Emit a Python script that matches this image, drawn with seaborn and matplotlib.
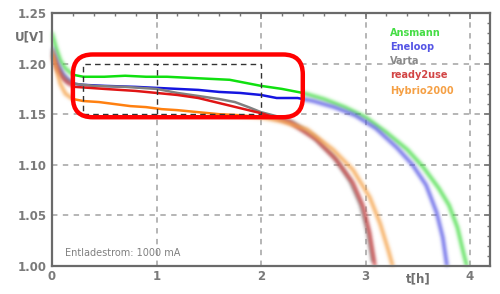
import numpy as np
import pandas as pd
import matplotlib
matplotlib.use("Agg")
import matplotlib.pyplot as plt
import seaborn as sns
from matplotlib.patches import FancyBboxPatch, Rectangle
from matplotlib.ticker import MultipleLocator, FormatStrFormatter

# ---------------- data ----------------
labels = ["Ansmann", "Eneloop", "Varta", "ready2use", "Hybrio2000"]
colors = ["#10e010", "#1515e0", "#808080", "#e01515", "#ff8010"]
soft_colors = ["#45dd45", "#5555e5", "#8a8a8a", "#d24545", "#f5a045"]

green_t = [0, 0.04, 0.08, 0.13, 0.2, 0.3, 0.5, 0.7, 0.9, 1.1, 1.3, 1.5, 1.7, 1.85,
           2.0, 2.2, 2.4, 2.6, 2.8, 3.0, 3.2, 3.4, 3.55, 3.7, 3.8, 3.88, 3.94, 3.97]
green_v = [1.230, 1.215, 1.203, 1.195, 1.189, 1.187, 1.187, 1.188, 1.187, 1.187,
           1.186, 1.185, 1.184, 1.181, 1.178, 1.175, 1.171, 1.165, 1.157, 1.147,
           1.132, 1.115, 1.098, 1.077, 1.060, 1.038, 1.012, 1.000]

blue_t = [0, 0.05, 0.1, 0.15, 0.22, 0.3, 0.5, 0.8, 1.0, 1.2, 1.4, 1.6, 1.8, 2.0,
          2.15, 2.35, 2.5, 2.7, 2.9, 3.1, 3.3, 3.45, 3.58, 3.68, 3.74, 3.78]
blue_v = [1.215, 1.200, 1.190, 1.184, 1.180, 1.179, 1.178, 1.177, 1.176, 1.175,
          1.174, 1.172, 1.171, 1.169, 1.166, 1.166, 1.163, 1.157, 1.149, 1.136,
          1.117, 1.100, 1.080, 1.053, 1.028, 1.000]

gray_t = [0, 0.05, 0.1, 0.15, 0.22, 0.4, 0.7, 1.0, 1.2, 1.4, 1.6, 1.75, 1.88, 2.0,
          2.15, 2.3, 2.5, 2.7, 2.85, 2.95, 3.02, 3.07]
gray_v = [1.212, 1.198, 1.188, 1.183, 1.180, 1.178, 1.177, 1.175, 1.171, 1.168,
          1.165, 1.162, 1.157, 1.152, 1.148, 1.142, 1.128, 1.108, 1.085, 1.062,
          1.035, 1.005]

red_t = [0, 0.05, 0.1, 0.15, 0.22, 0.5, 0.8, 1.0, 1.2, 1.4, 1.6, 1.8, 2.0, 2.28,
         2.53, 2.72, 2.88, 2.98, 3.04, 3.09]
red_v = [1.208, 1.195, 1.186, 1.181, 1.177, 1.175, 1.173, 1.171, 1.169, 1.166,
         1.161, 1.156, 1.151, 1.142, 1.125, 1.105, 1.082, 1.058, 1.032, 1.000]

orange_t = [0, 0.04, 0.08, 0.13, 0.2, 0.3, 0.45, 0.6, 0.75, 0.9, 1.05, 1.2, 1.4,
            1.6, 1.8, 2.0, 2.2, 2.44, 2.69, 2.88, 3.04, 3.14, 3.22, 3.26]
orange_v = [1.213, 1.195, 1.180, 1.170, 1.165, 1.163, 1.162, 1.160, 1.158, 1.157,
            1.155, 1.154, 1.152, 1.150, 1.149, 1.147, 1.143, 1.135, 1.115, 1.095,
            1.068, 1.042, 1.015, 1.000]

series_t = [green_t, blue_t, gray_t, red_t, orange_t]
series_v = [green_v, blue_v, gray_v, red_v, orange_v]

x_ticks = [0, 1, 2, 3, 4]
y_ticks = [1.00, 1.05, 1.10, 1.15, 1.20, 1.25]
note_text = "Entladestrom: 1000 mA"

# ---------------- helpers ----------------
def make_blur(rgb, sigma=1.6, alpha=0.85):
    r = int(3 * sigma) + 1
    k = np.exp(-0.5 * (np.arange(-r, r + 1) / sigma) ** 2)
    k /= k.sum()

    def f(im, dpi):
        a = np.pad(im[:, :, 3], ((r, r), (r, r)))
        tmp = np.zeros_like(a)
        for i, w in enumerate(k):
            tmp += w * np.roll(a, i - r, axis=1)
        out_a = np.zeros_like(a)
        for i, w in enumerate(k):
            out_a += w * np.roll(tmp, i - r, axis=0)
        out = np.zeros(a.shape + (4,), dtype=im.dtype)
        out[:, :, 0] = rgb[0]
        out[:, :, 1] = rgb[1]
        out[:, :, 2] = rgb[2]
        out[:, :, 3] = np.clip(out_a * alpha, 0, 1)
        return out, -r, -r
    return f

# ---------------- figure ----------------
sns.set_theme(style="white")
plt.rcParams["font.family"] = ["DejaVu Sans"]

fig = plt.figure(figsize=(5, 2.94), dpi=100)
ax = fig.add_axes([52 / 500, 1 - 266 / 294, (490 - 52) / 500, (266 - 13) / 294])
ax.set_xlim(0, (490 - 52) / 104.5)
ax.set_ylim(1.0, 1.25)

# grid
for xv in x_ticks:
    ax.axvline(xv, color="#b0b0b0", lw=1.3, ls=(0, (3, 3)), zorder=0.5)
for yv in y_ticks:
    ax.axhline(yv, color="#b0b0b0", lw=1.3, ls=(0, (3, 3)), zorder=0.5)

# rounded highlight box geometry (data coords)
asp = (1 / 1012) / (1 / 104.5)
bx0, bx1, by0, by1 = 0.20, 2.40, 1.147, 1.209

# blurred (outside) lines
for t, v, lab, sc in zip(series_t, series_v, labels, soft_colors):
    df = pd.DataFrame({"t": t, "U": v})
    sns.lineplot(data=df, x="t", y="U", ax=ax, color=sc, lw=2.6,
                 sort=False, estimator=None, zorder=2)
    ln = ax.lines[-1]
    ln.set_agg_filter(make_blur(matplotlib.colors.to_rgb(sc)))
    ln.set_rasterized(True)

# sharp lines clipped inside the highlight box
clip = FancyBboxPatch((bx0, by0), bx1 - bx0, by1 - by0,
                      boxstyle="round,pad=0,rounding_size=0.19",
                      mutation_aspect=asp, transform=ax.transData,
                      facecolor="white", edgecolor="none", zorder=2.5)
ax.add_patch(clip)
for t, v, lab, c in zip(series_t, series_v, labels, colors):
    df = pd.DataFrame({"t": t, "U": v})
    sns.lineplot(data=df, x="t", y="U", ax=ax, color=c, lw=1.8,
                 sort=False, estimator=None, zorder=3)
    ax.lines[-1].set_clip_path(clip)

# dashed zoom rectangle
ax.add_patch(Rectangle((0.3, 1.15), 1.7, 0.05, fill=False, edgecolor="#333333",
                       lw=1.0, ls=(0, (4, 3)), zorder=3.5))
ax.plot([1, 1], [1.15, 1.20], color="#333333", lw=1.0, ls=(0, (4, 3)), zorder=3.5)

# red rounded frame
frame = FancyBboxPatch((bx0, by0), bx1 - bx0, by1 - by0,
                       boxstyle="round,pad=0,rounding_size=0.19",
                       mutation_aspect=asp, transform=ax.transData,
                       facecolor="none", edgecolor="#ff0000", lw=3.2, zorder=4)
ax.add_patch(frame)

# axes styling
ax.set_xticks(x_ticks)
ax.set_yticks(y_ticks)
ax.yaxis.set_major_formatter(FormatStrFormatter("%.2f"))
ax.xaxis.set_minor_locator(MultipleLocator(0.2))
ax.yaxis.set_minor_locator(MultipleLocator(0.01))
ax.tick_params(which="both", direction="in", top=True, right=True,
               color="#777777", labelcolor="#7a7a7a", labelsize=8.5)
ax.tick_params(which="major", length=4, width=1.2)
ax.tick_params(which="minor", length=2.5, width=1.0)
ax.tick_params(axis="x", pad=3)
for lbl in ax.get_xticklabels() + ax.get_yticklabels():
    lbl.set_fontweight("bold")
for s in ax.spines.values():
    s.set_color("#6a6a6a")
    s.set_linewidth(1.6)
ax.set_xlabel("")
ax.set_ylabel("")

# axis labels as placed in reference
fig.text(15 / 500, 1 - 37 / 294, "U[V]", color="#707070", fontsize=8.5,
         fontweight="bold", va="center", ha="left")
fig.text(406 / 500, 1 - 279 / 294, "t[h]", color="#707070", fontsize=8.5,
         fontweight="bold", va="center", ha="left")

# legend texts
leg_y = [33, 47, 61, 75, 91]
for lab, sc, yy in zip(labels, soft_colors, leg_y):
    fig.text(390 / 500, 1 - yy / 294, lab, color=sc, fontsize=7,
             fontweight="bold", va="center", ha="left", zorder=5)

ax.text(0.03, 0.05, note_text, transform=ax.transAxes, color="#808080",
        fontsize=7, va="center", ha="left")

fig.savefig("out.png", dpi=100)
